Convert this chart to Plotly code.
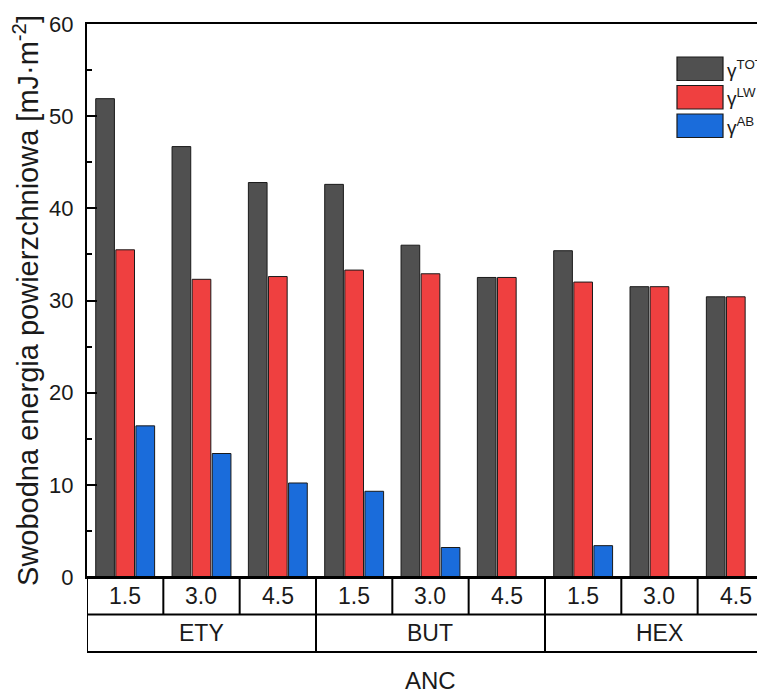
import plotly.graph_objects as go

groups = ["ETY", "BUT", "HEX"]
levels = ["1.5", "3.0", "4.5"]
series_names = ["γ<sup>TOT</sup>", "γ<sup>LW</sup>", "γ<sup>AB</sup>"]
gamma_tot = [51.9, 46.7, 42.8, 42.6, 36.0, 32.5, 35.4, 31.5, 30.4]
gamma_lw = [35.5, 32.3, 32.6, 33.3, 32.9, 32.5, 32.0, 31.5, 30.4]
gamma_ab = [16.4, 13.4, 10.2, 9.3, 3.2, 0.0, 3.4, 0.0, 0.0]
colors = ["#505050", "#EF4040", "#1A6CDB"]

FONT = "Arial, Liberation Sans, sans-serif"
TXT = "#1a1a1a"
n = len(groups) * len(levels)
xs = list(range(n))

# page body has an 8px margin; figure is sized so the plot lands where the reference has it
W, H = 757, 685
ML, MT, MB = 79, 16, 116
PW = W - ML
PH = H - MT - MB  # 553

def py(px_abs):
    """absolute page y pixel -> paper y"""
    return (MT + 8 + PH - px_abs) / PH

def pxp(px_abs):
    return (px_abs - (ML + 8)) / PW

cell = 76.33

fig = go.Figure()
for name, vals, col in zip(series_names, [gamma_tot, gamma_lw, gamma_ab], colors):
    fig.add_trace(go.Bar(x=xs, y=vals, name=name,
                         marker=dict(color=col, line=dict(color="#1a1a1a", width=1)),
                         showlegend=False))

row_h = 37.5 / PH
shapes = []
line = dict(color="black", width=2)
for k in range(3):
    shapes.append(dict(type="line", xref="x", yref="paper", x0=-0.5, x1=n - 0.5,
                       y0=-k * row_h, y1=-k * row_h, line=line))
for k in range(n + 1):
    b = k - 0.5
    full = (k % len(levels) == 0)
    shapes.append(dict(type="line", xref="x", yref="paper", x0=b, x1=b, y0=0,
                       y1=-(2 * row_h if full else row_h), line=line))

annotations = []
for i in range(n):
    annotations.append(dict(x=i, y=-row_h / 2, xref="x", yref="paper", text=levels[i % len(levels)],
                            showarrow=False, font=dict(size=23, family=FONT, color=TXT),
                            xanchor="center", yanchor="middle"))
for g, name in enumerate(groups):
    annotations.append(dict(x=g * len(levels) + 1, y=-1.5 * row_h, xref="x", yref="paper", text=name,
                            showarrow=False, font=dict(size=23, family=FONT, color=TXT),
                            xanchor="center", yanchor="middle"))
annotations.append(dict(x=(n - 1) / 2, y=py(680), xref="x", yref="paper", text="ANC",
                        showarrow=False, font=dict(size=24, family=FONT, color=TXT),
                        xanchor="center", yanchor="middle"))

# legend drawn manually
leg_x0, leg_x1 = pxp(677), pxp(723)
leg_tops = [57, 85.5, 114]
for name, col, top in zip(series_names, colors, leg_tops):
    y0 = py(top)
    y1 = py(top + 23.5)
    shapes.append(dict(type="rect", xref="paper", yref="paper", x0=leg_x0, x1=leg_x1, y0=y1, y1=y0,
                       fillcolor=col, line=dict(color="#1a1a1a", width=1.2)))
    annotations.append(dict(x=pxp(725), y=(y0 + y1) / 2, xref="paper", yref="paper", text=name,
                            showarrow=False, xanchor="left", yanchor="middle",
                            font=dict(size=19, family=FONT, color=TXT)))

fig.update_layout(
    width=W, height=H,
    margin=dict(l=ML, r=0, t=MT, b=MB, pad=0),
    paper_bgcolor="white", plot_bgcolor="white",
    barmode="group", bargap=0.21, bargroupgap=0.07,
    shapes=shapes, annotations=annotations,
    font=dict(family=FONT, color=TXT),
)
fig.update_xaxes(range=[-0.5, -0.5 + PW / cell], showticklabels=False, ticks="",
                 showline=True, linecolor="black", linewidth=2, mirror=True,
                 showgrid=False, zeroline=False)
fig.update_yaxes(range=[0, 60], dtick=10, tick0=0, ticks="inside", ticklen=10, tickwidth=1.5,
                 tickcolor="black",
                 minor=dict(dtick=5, ticks="inside", ticklen=5, tickwidth=1.5, tickcolor="black"),
                 showline=True, linecolor="black", linewidth=2, showgrid=False, zeroline=False,
                 tickfont=dict(size=22, family=FONT, color=TXT), ticklabelstandoff=7,
                 title=dict(text="Swobodna energia powierzchniowa [mJ·m<sup>-2</sup>]",
                            font=dict(size=29, family=FONT, color=TXT), standoff=6))

fig.write_html("out.html")
